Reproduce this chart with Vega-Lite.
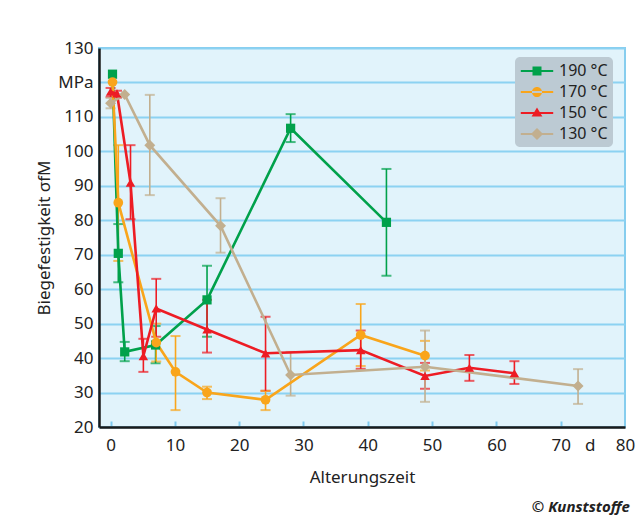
{
  "$schema": "https://vega.github.io/schema/vega-lite/v6.json",
  "width": 526,
  "height": 379,
  "autosize": {"type": "none"},
  "padding": {"left": 99, "top": 48, "right": 12, "bottom": 88},
  "background": "white",
  "title": {
    "text": "© Kunststoffe",
    "orient": "bottom",
    "anchor": "start",
    "dx": 496,
    "offset": 15,
    "font": "Noto Sans",
    "fontSize": 15,
    "fontStyle": "italic",
    "fontWeight": "bold",
    "color": "#222222"
  },
  "config": {
    "font": "Noto Sans",
    "view": {"fill": "#e1f3fb", "stroke": "#86cdee", "strokeWidth": 2},
    "axis": {
      "labelFont": "Noto Sans",
      "titleFont": "Noto Sans",
      "labelFontSize": 17,
      "titleFontSize": 17,
      "titleFontWeight": "normal",
      "labelColor": "#222222",
      "titleColor": "#222222",
      "domainColor": "#1a1a1a",
      "domainWidth": 2.5,
      "labelOverlap": false
    }
  },
  "data": {
    "values": [
      {"temp": "190 °C", "t": 0.3, "v": 122.4, "lo": null, "hi": null},
      {"temp": "190 °C", "t": 1.2, "v": 70.4, "lo": 62, "hi": 78.9},
      {"temp": "190 °C", "t": 2.2, "v": 41.8, "lo": 39.1, "hi": 44.7},
      {"temp": "190 °C", "t": 7, "v": 43.8, "lo": 38.5, "hi": 49.3},
      {"temp": "190 °C", "t": 15, "v": 56.9, "lo": 46.2, "hi": 66.8},
      {"temp": "190 °C", "t": 28, "v": 106.7, "lo": 102.7, "hi": 110.8},
      {"temp": "190 °C", "t": 42.9, "v": 79.4, "lo": 63.9, "hi": 94.9},
      {"temp": "170 °C", "t": 0.3, "v": 120.1, "lo": null, "hi": null},
      {"temp": "170 °C", "t": 1.2, "v": 85.1, "lo": 68.2, "hi": 101.8},
      {"temp": "170 °C", "t": 7.1, "v": 44.5, "lo": 39, "hi": 50},
      {"temp": "170 °C", "t": 10.1, "v": 36.0, "lo": 24.9, "hi": 46.4},
      {"temp": "170 °C", "t": 15, "v": 30.0, "lo": 28.1, "hi": 31.7},
      {"temp": "170 °C", "t": 24.1, "v": 27.9, "lo": 24.9, "hi": 30.5},
      {"temp": "170 °C", "t": 38.9, "v": 46.7, "lo": 37.7, "hi": 55.7},
      {"temp": "170 °C", "t": 48.9, "v": 40.7, "lo": 36.4, "hi": 45.0},
      {"temp": "150 °C", "t": 0, "v": 117.3, "lo": 115.8, "hi": 118.4},
      {"temp": "150 °C", "t": 1, "v": 116.8, "lo": 115.6, "hi": 117.6},
      {"temp": "150 °C", "t": 3.1, "v": 90.9, "lo": 80.3, "hi": 101.8},
      {"temp": "150 °C", "t": 5.1, "v": 40.6, "lo": 36.0, "hi": 45.6},
      {"temp": "150 °C", "t": 7.1, "v": 54.4, "lo": 46.2, "hi": 63},
      {"temp": "150 °C", "t": 15, "v": 48.3, "lo": 41.6, "hi": 56.9},
      {"temp": "150 °C", "t": 24.1, "v": 41.4, "lo": 30.5, "hi": 52.0},
      {"temp": "150 °C", "t": 38.9, "v": 42.3, "lo": 36.9, "hi": 48.0},
      {"temp": "150 °C", "t": 48.9, "v": 34.8, "lo": 31.1, "hi": 38.6},
      {"temp": "150 °C", "t": 55.8, "v": 37.2, "lo": 33.4, "hi": 40.9},
      {"temp": "150 °C", "t": 62.8, "v": 35.6, "lo": 32.5, "hi": 39.1},
      {"temp": "130 °C", "t": 0, "v": 114, "lo": 112.5, "hi": 115.5},
      {"temp": "130 °C", "t": 2.2, "v": 116.5, "lo": null, "hi": null},
      {"temp": "130 °C", "t": 6.1, "v": 101.8, "lo": 87.3, "hi": 116.4},
      {"temp": "130 °C", "t": 17.1, "v": 78.4, "lo": 70.6, "hi": 86.4},
      {"temp": "130 °C", "t": 28, "v": 35.1, "lo": 29.1, "hi": 41.8},
      {"temp": "130 °C", "t": 48.9, "v": 37.5, "lo": 27.3, "hi": 48.0},
      {"temp": "130 °C", "t": 72.7, "v": 31.9, "lo": 26.7, "hi": 36.8}
    ]
  },
  "encoding": {
    "x": {
      "field": "t",
      "type": "quantitative",
      "scale": {"domain": [-1.8, 80], "nice": false, "zero": false},
      "axis": {
        "title": "Alterungszeit",
        "values": [0, 10, 20, 30, 40, 50, 60, 70, 74.5, 80],
        "labelExpr": "datum.value == 74.5 ? 'd' : datum.label",
        "grid": false,
        "ticks": true,
        "tickSize": -6,
        "tickWidth": 2,
        "tickColor": "#7fc9ee",
        "tickOpacity": {"condition": {"test": "datum.value == 74.5 || datum.value == 80", "value": 0}, "value": 1},
        "labelPadding": 16,
        "titlePadding": 16,
        "labelFlush": false
      }
    },
    "y": {
      "field": "v",
      "type": "quantitative",
      "scale": {"domain": [20, 130], "nice": false, "zero": false},
      "title": "Biegefestigkeit σfM",
      "axis": {
        "values": [20, 30, 40, 50, 60, 70, 80, 90, 100, 110, 120, 130],
        "labelExpr": "datum.value == 120 ? 'MPa' : datum.label",
        "grid": true,
        "gridColor": "#8cd2f2",
        "gridWidth": 2,
        "ticks": false,
        "labelPadding": 6,
        "titlePadding": 4
      }
    },
    "color": {
      "field": "temp",
      "type": "nominal",
      "scale": {
        "domain": ["190 °C", "170 °C", "150 °C", "130 °C"],
        "range": ["#00a14b", "#f9a51b", "#ed1c24", "#c2af8f"]
      },
      "legend": {
        "title": null,
        "orient": "none",
        "legendX": 416,
        "legendY": 9,
        "fillColor": "#bccad3",
        "cornerRadius": 5,
        "padding": 5,
        "rowPadding": 4,
        "symbolSize": 324,
        "symbolOffset": 8,
        "labelOffset": 13,
        "labelFont": "Noto Sans",
        "labelFontSize": 16,
        "labelColor": "#222222",
        "encode": {
          "symbols": {
            "update": {
              "shape": {"signal": "datum.value == '190 °C' ? 'M-1.8,-0.12H1.8V0.12H-1.8Z M-0.5,-0.5H0.5V0.5H-0.5Z' : datum.value == '170 °C' ? 'M-1.8,-0.12H1.8V0.12H-1.8Z M-0.56,0A0.56,0.56 0 1,0 0.56,0A0.56,0.56 0 1,0 -0.56,0Z' : datum.value == '150 °C' ? 'M-1.8,-0.12H1.8V0.12H-1.8Z M0,-0.6L0.6,0.4H-0.6Z' : 'M-1.8,-0.12H1.8V0.12H-1.8Z M0,-0.67L0.67,0L0,0.67L-0.67,0Z'"},
              "fill": {"scale": "color", "field": "value"},
              "stroke": {"value": "transparent"},
              "strokeWidth": {"value": 0},
              "opacity": {"value": 1}
            }
          }
        }
      }
    }
  },
  "layer": [
    {
      "transform": [{"filter": "isValid(datum.lo)"}],
      "mark": {
        "type": "errorbar",
        "ticks": {"size": 10, "thickness": 2},
        "rule": {"strokeWidth": 1.6}
      },
      "encoding": {
        "y": {"field": "lo", "type": "quantitative", "title": "Biegefestigkeit σfM"},
        "y2": {"field": "hi"}
      }
    },
    {
      "mark": {"type": "line", "strokeWidth": 2.6}
    },
    {
      "transform": [{"filter": "datum.temp == '190 °C'"}],
      "mark": {"type": "point", "filled": true, "size": 85, "opacity": 1, "shape": "square"}
    },
    {
      "transform": [{"filter": "datum.temp == '170 °C'"}],
      "mark": {"type": "point", "filled": true, "size": 95, "opacity": 1, "shape": "circle"}
    },
    {
      "transform": [{"filter": "datum.temp == '150 °C'"}],
      "mark": {"type": "point", "filled": true, "size": 90, "opacity": 1, "shape": "triangle-up"}
    },
    {
      "transform": [{"filter": "datum.temp == '130 °C'"}],
      "mark": {"type": "point", "filled": true, "size": 120, "opacity": 1, "shape": "diamond"}
    }
  ]
}
